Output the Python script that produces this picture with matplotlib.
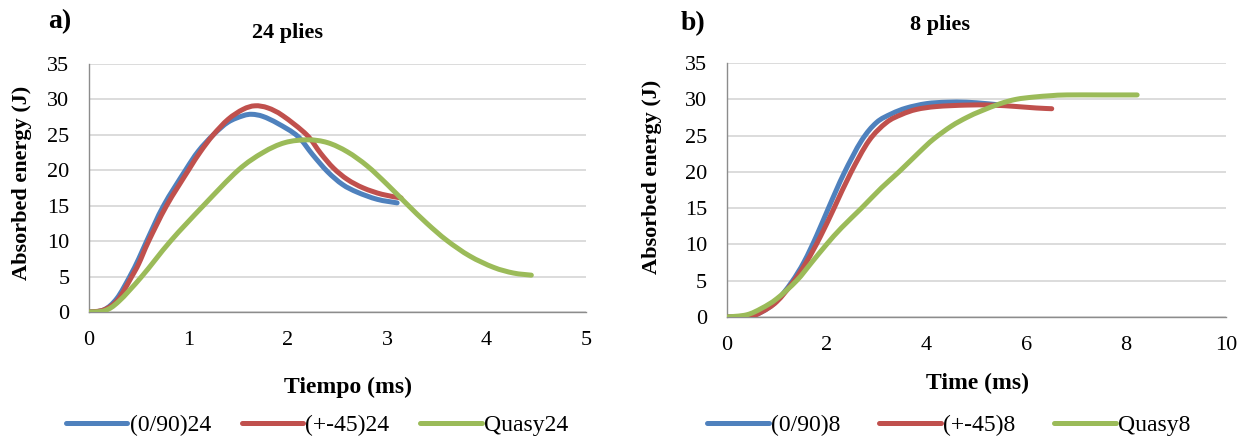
import matplotlib
matplotlib.use("Agg")
import matplotlib.pyplot as plt
from matplotlib.lines import Line2D
from matplotlib.path import Path
from matplotlib.patches import PathPatch

plt.rcParams['font.family'] = ['Liberation Serif', 'DejaVu Serif']

# ---------------- data: panel a) 24 plies ----------------
a_blue_x = [0, 0.15, 0.28, 0.41, 0.5, 0.58, 0.75, 0.97, 1.1, 1.25, 1.4, 1.55, 1.64, 1.75, 1.9, 2.1, 2.25, 2.4, 2.55, 2.7, 2.9, 3.10]
a_blue_y = [0, 0.3, 1.9, 5, 7.5, 10, 15, 20, 22.7, 25, 26.8, 27.7, 27.9, 27.6, 26.6, 24.8, 22.2, 19.8, 18.0, 16.9, 15.9, 15.4]
a_red_x = [0, 0.15, 0.29, 0.43, 0.5, 0.6, 0.78, 1.0, 1.12, 1.25, 1.4, 1.55, 1.67, 1.8, 1.95, 2.19, 2.33, 2.46, 2.6, 2.76, 2.95, 3.14]
a_red_y = [0, 0.3, 1.7, 5, 6.8, 10, 15, 20, 22.6, 25, 27.2, 28.6, 29.1, 28.8, 27.7, 25, 22.4, 20.3, 18.7, 17.5, 16.6, 16.1]
a_green_x = [0, 0.16, 0.3, 0.53, 0.82, 1.15, 1.5, 1.75, 1.97, 2.2, 2.4, 2.6, 2.8, 3.0, 3.2, 3.4, 3.60, 3.83, 4.07, 4.27, 4.45]
a_green_y = [0, 0.2, 1.5, 5, 10, 15, 20, 22.5, 23.9, 24.3, 23.9, 22.6, 20.6, 18.0, 15.2, 12.5, 10.1, 7.9, 6.3, 5.5, 5.2]

# ---------------- data: panel b) 8 plies ----------------
b_blue_x = [0, 0.4, 0.7, 1.0, 1.3, 1.55, 1.8, 2.05, 2.35, 2.7, 3.0, 3.3, 3.6, 4.0, 4.4, 4.8, 5.2, 5.5]
b_blue_y = [0, 0.05, 0.7, 2.2, 4.8, 7.6, 11.2, 15.2, 19.8, 24.3, 26.8, 28.0, 28.8, 29.4, 29.6, 29.6, 29.4, 29.2]
b_red_x = [0, 0.45, 0.7, 1.0, 1.33, 1.6, 1.87, 2.15, 2.48, 2.85, 3.2, 3.5, 3.8, 4.2, 4.8, 5.3, 5.81, 6.2, 6.51]
b_red_y = [0, 0.05, 0.7, 2.1, 4.8, 7.6, 11.0, 15.0, 19.8, 24.3, 26.8, 27.9, 28.6, 29.0, 29.2, 29.2, 29.0, 28.8, 28.7]
b_green_x = [0, 0.4, 0.7, 1.0, 1.4, 1.7, 2.0, 2.3, 2.7, 3.1, 3.45, 3.87, 4.14, 4.5, 4.81, 5.1, 5.48, 5.8, 6.14, 6.5, 6.81, 7.5, 8.22]
b_green_y = [0, 0.3, 1.2, 2.5, 5, 7.5, 10, 12.3, 15, 17.8, 20, 22.8, 24.5, 26.3, 27.5, 28.4, 29.4, 30.0, 30.3, 30.5, 30.6, 30.6, 30.6]

a_labels = ["(0/90)24", "(+-45)24", "Quasy24"]
b_labels = ["(0/90)8", "(+-45)8", "Quasy8"]
a_xticks = [0, 1, 2, 3, 4, 5]
b_xticks = [0, 2, 4, 6, 8, 10]
yticks = [0, 5, 10, 15, 20, 25, 30, 35]

colors = ["#4F81BD", "#C0504D", "#9BBB59"]
LW = 3.6
TICK_FS = 16
W, H = 1241, 441

fig = plt.figure(figsize=(W / 100, H / 100), dpi=100)


def style_axes(ax, xlim, xticks):
    ax.set_xlim(xlim)
    ax.set_ylim(0, 35)
    ax.set_xticks(xticks)
    ax.set_yticks(yticks)
    ax.grid(axis='y', color='#D9D9D9', linewidth=1.3)
    ax.set_axisbelow(True)
    for s in ['top', 'right']:
        ax.spines[s].set_visible(False)
    for s in ['left', 'bottom']:
        ax.spines[s].set_color('#8C8C8C')
        ax.spines[s].set_linewidth(1.0)
    ax.tick_params(axis='both', length=0, labelsize=TICK_FS, colors='black')
    ax.tick_params(axis='y', pad=14)
    ax.tick_params(axis='x', pad=14)


def smooth_line(ax, xs, ys, color):
    # Excel-style smoothed line: Bezier segments through the data points
    n = len(xs)
    verts = [(xs[0], ys[0])]
    codes = [Path.MOVETO]
    for i in range(n - 1):
        x0, y0 = xs[max(i - 1, 0)], ys[max(i - 1, 0)]
        x1, y1 = xs[i], ys[i]
        x2, y2 = xs[i + 1], ys[i + 1]
        x3, y3 = xs[min(i + 2, n - 1)], ys[min(i + 2, n - 1)]
        c1 = (x1 + (x2 - x0) / 6.0, y1 + (y2 - y0) / 6.0)
        c2 = (x2 - (x3 - x1) / 6.0, y2 - (y3 - y1) / 6.0)
        verts += [c1, c2, (x2, y2)]
        codes += [Path.CURVE4] * 3
    patch = PathPatch(Path(verts, codes), fill=False, edgecolor=color, lw=LW,
                      capstyle='round', joinstyle='round', zorder=3)
    ax.add_patch(patch)


def px(x, y):
    return x / W, 1 - y / H


# Panel a
ax1 = fig.add_axes([89 / W, 1 - 312 / H, 497 / W, 248 / H])
style_axes(ax1, (0, 5), a_xticks)
for xs, ys, c in zip([a_blue_x, a_red_x, a_green_x], [a_blue_y, a_red_y, a_green_y], colors):
    smooth_line(ax1, xs, ys, c)

# Panel b
ax2 = fig.add_axes([726.7 / W, 1 - 317 / H, 499.3 / W, 254 / H])
style_axes(ax2, (0, 10), b_xticks)
for xs, ys, c in zip([b_blue_x, b_red_x, b_green_x], [b_blue_y, b_red_y, b_green_y], colors):
    smooth_line(ax2, xs, ys, c)

# Texts
fig.text(*px(60, 22), "a)", fontsize=20, fontweight='bold', ha='center', va='center')
fig.text(*px(287, 33), "24 plies", fontsize=16, fontweight='bold', ha='center', va='center')
fig.text(*px(693, 24), "b)", fontsize=20, fontweight='bold', ha='center', va='center')
fig.text(*px(940, 25), "8 plies", fontsize=16, fontweight='bold', ha='center', va='center')

fig.text(*px(348, 387), "Tiempo (ms)", fontsize=17, fontweight='bold', ha='center', va='center')
fig.text(*px(978, 383), "Time (ms)", fontsize=17, fontweight='bold', ha='center', va='center')

fig.text(*px(22, 183), "Absorbed energy (J)", fontsize=16, fontweight='bold', ha='center', va='center', rotation=90)
fig.text(*px(652, 177), "Absorbed energy (J)", fontsize=16, fontweight='bold', ha='center', va='center', rotation=90)


def add_legend(labels, cx, colsp):
    handles = [Line2D([0], [0], color=c, lw=LW, solid_capstyle='round') for c in colors]
    fig.legend(handles, labels, loc='center', bbox_to_anchor=px(cx, 425), ncol=3,
               frameon=False, fontsize=17, handlelength=2.6, handletextpad=0.1,
               columnspacing=colsp, borderpad=0, borderaxespad=0)


add_legend(a_labels, 317, 1.3)
add_legend(b_labels, 949, 1.65)

fig.savefig("out.png", dpi=100)
